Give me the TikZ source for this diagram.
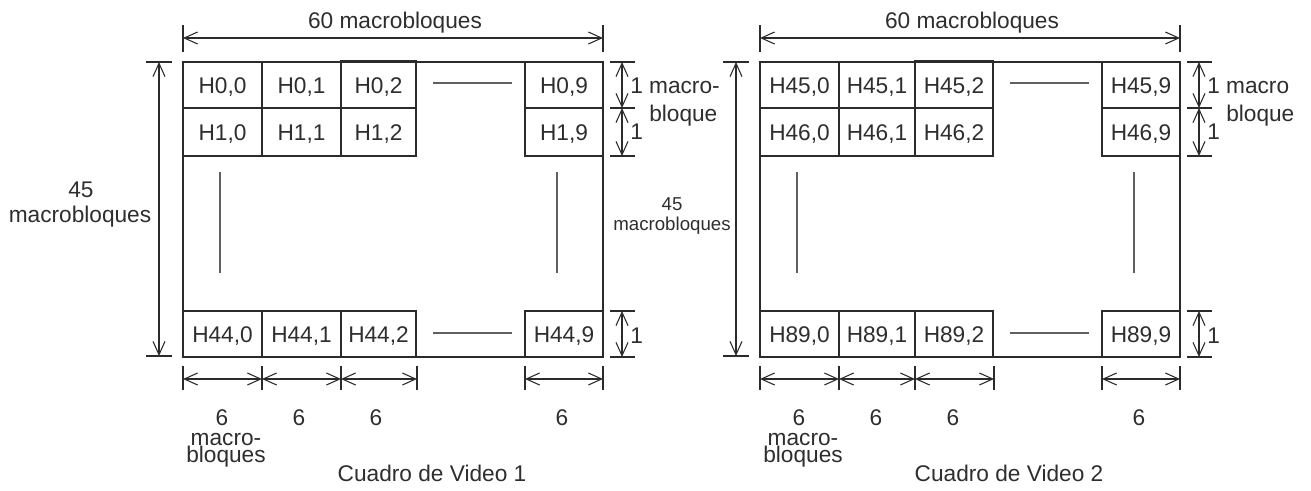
\documentclass[tikz,border=0pt]{standalone}
\usepackage{fontspec}
\setmainfont{Liberation Sans}
\usetikzlibrary{arrows.meta}
\definecolor{ink}{HTML}{2B2B2B}
\definecolor{txt}{HTML}{2E2E2E}
\tikzset{
  box/.style={draw=ink, line width=1.2pt},
  dimline/.style={draw=ink, line width=0.8pt, {Straight Barb[length=10pt,width=9pt]}-{Straight Barb[length=10pt,width=9pt]}},
  tickline/.style={draw=ink, line width=0.8pt},
  gapline/.style={draw=ink!75, line width=0.8pt},
  lbl/.style={inner sep=0pt, text=txt, font=\fontsize{17}{20}\selectfont, anchor=base},
  lblw/.style={lbl, anchor=base west},
  smalllbl/.style={inner sep=0pt, text=txt, font=\fontsize{14}{16}\selectfont, anchor=base},
  tightlbl/.style={inner sep=0pt, text=txt, font=\fontsize{17}{13.1}\selectfont, align=center, anchor=center},
}
% #1 prefix, #2 first row, #3 second row, #4 last row, #5 caption number,
% #6 x of third column, #7 right label text, #8 x shift
\newcommand\vframe[8]{%
\begin{scope}[shift={(#8,0)}]
  % outer frame
  \draw[box] (183,62) rectangle (603,357);
  % cells
  \draw[box] (183,62) rectangle (262,108) (262,62) rectangle (#6,108) (#6,60.5) rectangle (416,108) (525,62) rectangle (603,108);
  \draw[box] (183,108) rectangle (262,156) (262,108) rectangle (#6,156) (#6,108) rectangle (416,156) (525,108) rectangle (603,156);
  \draw[box] (183,311) rectangle (262,357) (262,311) rectangle (#6,357) (#6,311) rectangle (416,357) (525,311) rectangle (603,357);
  \node[lbl] (#1a0) at (222.5,93) {H#2,0};
  \node[lbl] (#1a1) at ({(262+#6)/2},93) {H#2,1};
  \node[lbl] (#1a2) at ({(#6+416)/2},93) {H#2,2};
  \node[lbl] (#1a9) at (564,93) {H#2,9};
  \node[lbl] (#1b0) at (222.5,140) {H#3,0};
  \node[lbl] (#1b1) at ({(262+#6)/2},140) {H#3,1};
  \node[lbl] (#1b2) at ({(#6+416)/2},140) {H#3,2};
  \node[lbl] (#1b9) at (564,140) {H#3,9};
  \node[lbl] (#1c0) at (222.5,342) {H#4,0};
  \node[lbl] (#1c1) at ({(262+#6)/2},342) {H#4,1};
  \node[lbl] (#1c2) at ({(#6+416)/2},342) {H#4,2};
  \node[lbl] (#1c9) at (564,342) {H#4,9};
  % ellipsis lines
  \draw[gapline] (433,83) -- (512,83) (433,333) -- (512,333);
  \draw[gapline] (220,172) -- (220,273) (557,172) -- (557,273);
  % width dimension
  \coordinate (#1wL) at (183,38); \coordinate (#1wR) at (603,38);
  \draw[tickline] (183,25) -- (183,52) (603,25) -- (603,52);
  \draw[dimline] (#1wL) -- (#1wR);
  \node[lbl] (#1wlab) at (395,28) {60 macrobloques};
  % height dimension
  \coordinate (#1hT) at (159,62); \coordinate (#1hB) at (159,356);
  \draw[tickline] (146,62) -- (172,62) (146,356) -- (172,356);
  \draw[dimline] (#1hT) -- (#1hB);
  % right dimensions
  \coordinate (#1r0) at (622,62); \coordinate (#1r1) at (622,108);
  \coordinate (#1r2) at (622,156); \coordinate (#1r3) at (622,311);
  \coordinate (#1r4) at (622,357);
  \draw[tickline] (610,62) -- (635,62) (610,108) -- (635,108) (610,156) -- (635,156)
                  (610,311) -- (635,311) (610,357) -- (635,357);
  \draw[dimline] (#1r0) -- (#1r1);
  \draw[dimline] (#1r1) -- (#1r2);
  \draw[dimline] (#1r3) -- (#1r4);
  \node[lblw] (#1rl1) at (630,93) {#7};
  \node[lblw] (#1rl2) at (649,121) {bloque};
  \node[lblw] (#1rl3) at (630,139) {1};
  \node[lblw] (#1rl4) at (630,343) {1};
  % bottom dimensions
  \coordinate (#1d0) at (183,379); \coordinate (#1d1) at (262,379);
  \coordinate (#1d2) at (#6,379); \coordinate (#1d3) at (417,379);
  \coordinate (#1d4) at (525,379); \coordinate (#1d5) at (603,379);
  \draw[tickline] (183,366) -- (183,390) (262,366) -- (262,390) (#6,366) -- (#6,390)
                  (417,366) -- (417,390) (525,366) -- (525,390) (603,366) -- (603,390);
  \draw[dimline] (#1d0) -- (#1d1);
  \draw[dimline] (#1d1) -- (#1d2);
  \draw[dimline] (#1d2) -- (#1d3);
  \draw[dimline] (#1d4) -- (#1d5);
  \node[lbl] (#1s0) at (222,425) {6};
  \node[lbl] (#1s1) at (299,425) {6};
  \node[lbl] (#1s2) at (376,425) {6};
  \node[lbl] (#1s9) at (562,425) {6};
  \node[tightlbl] (#1mb) at (226,450.5) {macro-\\bloques};
  \node[lbl] (#1cap) at (432,481) {Cuadro de Video #5};
\end{scope}}

\begin{document}
\begin{tikzpicture}[x=0.75pt,y=-0.75pt]
  \useasboundingbox (0,0) rectangle (1311,490);
  \fill[white] (0,0) rectangle (1311,490);
  \vframe{A}{0}{1}{44}{1}{341}{1 macro-}{0}
  \vframe{B}{45}{46}{89}{2}{338}{1 macro}{577}
  % left height label of frame 1
  \node[lbl] (Ah1) at (81,197) {45};
  \node[lbl] (Ah2) at (80,222) {macrobloques};
  % height label of frame 2
  \node[smalllbl] (Bh1) at (672,210) {45};
  \node[smalllbl] (Bh2) at (672,230) {macrobloques};
\end{tikzpicture}
\end{document}
